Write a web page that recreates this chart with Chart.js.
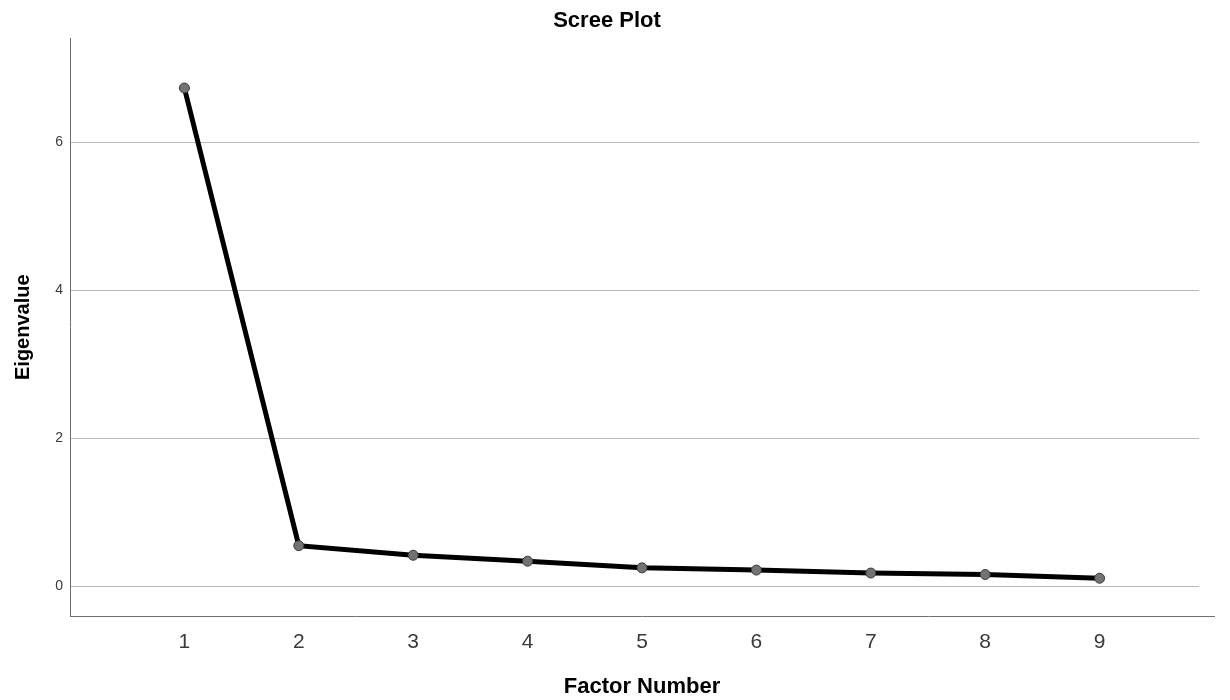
<!DOCTYPE html>
<html>
<head>
<meta charset="utf-8">
<script src="https://cdn.jsdelivr.net/npm/chart.js@4/dist/chart.umd.min.js"></script>
<style>
  html, body { margin: 0; padding: 0; background: #ffffff; }
  #wrap { width: 1230px; height: 700px; }
</style>
</head>
<body>
<div id="wrap"><canvas id="c" width="1230" height="700"></canvas></div>
<script>
const factorNumbers = [1, 2, 3, 4, 5, 6, 7, 8, 9];
const eigenvalues = [6.73, 0.55, 0.42, 0.34, 0.25, 0.22, 0.18, 0.16, 0.11];
const yTickValues = [0, 2, 4, 6];
const xTickValues = [1, 2, 3, 4, 5, 6, 7, 8, 9];

const points = factorNumbers.map((f, i) => ({ x: f, y: eigenvalues[i] }));
const FONT = '"Liberation Sans", Arial, sans-serif';

const gridPlugin = {
  id: 'spssGrid',
  beforeDatasetsDraw(chart) {
    const ctx = chart.ctx;
    const y = chart.scales.y;
    const area = chart.chartArea;
    ctx.save();
    ctx.strokeStyle = '#b9b9b9';
    ctx.lineWidth = 1;
    yTickValues.forEach(v => {
      const py = Math.round(y.getPixelForValue(v)) + 0.5;
      ctx.beginPath();
      ctx.moveTo(area.left + 1, py);
      ctx.lineTo(area.right - 15, py);
      ctx.stroke();
    });
    ctx.restore();
  }
};

new Chart(document.getElementById('c'), {
  type: 'line',
  data: {
    datasets: [{
      label: 'Eigenvalue',
      data: points,
      borderColor: '#000000',
      borderWidth: 5,
      pointRadius: 5,
      pointBackgroundColor: '#727272',
      pointBorderColor: '#3a3a3a',
      pointBorderWidth: 1,
      tension: 0,
      fill: false
    }]
  },
  options: {
    responsive: false,
    animation: false,
    layout: { padding: { left: 0, right: 16, top: 0, bottom: 0 } },
    plugins: {
      legend: { display: false },
      tooltip: { enabled: false },
      title: {
        display: true,
        text: 'Scree Plot',
        color: '#000000',
        font: { family: FONT, size: 22, weight: 'bold' },
        padding: { top: 8, bottom: 4 }
      }
    },
    scales: {
      x: {
        type: 'linear',
        min: 0,
        max: 10,
        afterBuildTicks(scale) {
          scale.ticks = xTickValues.map(v => ({ value: v }));
        },
        afterFit(scale) { scale.height = 84; },
        grid: { display: false, drawTicks: false },
        border: { display: true, color: '#707070', width: 1 },
        ticks: {
          color: '#3a3a3a',
          font: { family: FONT, size: 21 },
          padding: 14,
          maxRotation: 0,
          autoSkip: false
        },
        title: {
          display: true,
          text: 'Factor Number',
          color: '#000000',
          font: { family: FONT, size: 22, weight: 'bold' },
          padding: { top: 0, bottom: 0 }
        }
      },
      y: {
        type: 'linear',
        min: -0.4,
        max: 7.4,
        afterBuildTicks(scale) {
          scale.ticks = yTickValues.map(v => ({ value: v }));
        },
        afterFit(scale) { scale.width = 70; },
        grid: { display: false, drawTicks: false },
        border: { display: true, color: '#707070', width: 1 },
        ticks: {
          color: '#3a3a3a',
          font: { family: FONT, size: 14 },
          padding: 7
        },
        title: {
          display: true,
          text: 'Eigenvalue',
          color: '#000000',
          font: { family: FONT, size: 20, weight: 'bold' },
          padding: { top: 11, bottom: 0 }
        }
      }
    }
  },
  plugins: [gridPlugin]
});
</script>
</body>
</html>
